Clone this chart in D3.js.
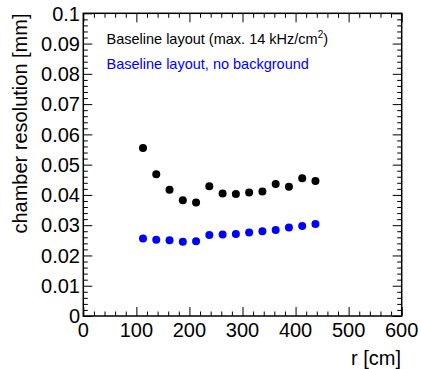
<!DOCTYPE html>
<html><head><meta charset="UTF-8"><title>chamber resolution</title>
<script src="https://cdn.jsdelivr.net/npm/d3@7"></script>
<style>
	body	{ margin:0; background:#fff; }
	svg	{ display:block; font-family:"Liberation Sans",Arial,Helvetica,sans-serif; }
</style>
</head><body>
<svg id="chart" width="421" height="369"></svg>
<script>
// r positions of the chambers [cm]
var radius=[112.5,137.5,162.5,187.5,212.5,237.5,262.5,287.5,312.5,337.5,362.5,387.5,412.5,437.5];
// resolution [mm], with background (max. 14 kHz/cm2)
var resBaseline=[0.0555,0.0468,0.0417,0.0382,0.0375,0.0429,0.0405,0.0403,0.0408,0.0411,0.0436,0.0427,0.0455,0.0446];
// resolution [mm], no background
var resNoBkg=[0.0256,0.0252,0.0250,0.0245,0.0247,0.0268,0.0269,0.0271,0.0276,0.0280,0.0284,0.0292,0.0297,0.0304];
var xTicks=[0,100,200,300,400,500,600];
var yTicks=[0,0.01,0.02,0.03,0.04,0.05,0.06,0.07,0.08,0.09,0.1];

var svg=d3.select('#chart');
var L=83.3, R=401.7, T=13.3, B=316;
var x=d3.scaleLinear().domain([0,600]).range([L,R]);
var y=d3.scaleLinear().domain([0,0.1]).range([B,T]);

var fmtY=function(d){ return d===0?'0':d3.format('.2~f')(d); };

// minor ticks
var xMinor=d3.range(0,601,20).filter(function(d){return d%100!==0;});
var yMinor=d3.range(0,51).map(function(i){return i*0.002;}).filter(function(d,i){return i%5!==0;});

function axisLine(g){ g.selectAll('path').remove(); g.selectAll('line').attr('stroke','#000'); }

// bottom / top / left / right axes, ROOT style ticks pointing inside
svg.append('g').attr('transform','translate(0,'+B+')')
	.call(d3.axisTop(x).tickValues(xTicks).tickSize(9).tickFormat(''))
	.call(axisLine);
svg.append('g').attr('transform','translate(0,'+B+')')
	.call(d3.axisTop(x).tickValues(xMinor).tickSize(4.5).tickFormat(''))
	.call(axisLine);
svg.append('g').attr('transform','translate(0,'+T+')')
	.call(d3.axisBottom(x).tickValues(xTicks).tickSize(9).tickFormat(''))
	.call(axisLine);
svg.append('g').attr('transform','translate(0,'+T+')')
	.call(d3.axisBottom(x).tickValues(xMinor).tickSize(4.5).tickFormat(''))
	.call(axisLine);
svg.append('g').attr('transform','translate('+L+',0)')
	.call(d3.axisRight(y).tickValues(yTicks).tickSize(9).tickFormat(''))
	.call(axisLine);
svg.append('g').attr('transform','translate('+L+',0)')
	.call(d3.axisRight(y).tickValues(yMinor).tickSize(4.5).tickFormat(''))
	.call(axisLine);
svg.append('g').attr('transform','translate('+R+',0)')
	.call(d3.axisLeft(y).tickValues(yTicks).tickSize(9).tickFormat(''))
	.call(axisLine);
svg.append('g').attr('transform','translate('+R+',0)')
	.call(d3.axisLeft(y).tickValues(yMinor).tickSize(4.5).tickFormat(''))
	.call(axisLine);

// frame
svg.append('rect').attr('x',L).attr('y',T).attr('width',R-L).attr('height',B-T)
	.attr('fill','none').attr('stroke','#000').attr('stroke-width',1.5);

// tick labels
svg.append('g').selectAll('text').data(xTicks).join('text')
	.attr('x',function(d){return x(d);}).attr('y',337)
	.attr('text-anchor','middle').attr('font-size',20).text(function(d){return d;});
svg.append('g').selectAll('text').data(yTicks).join('text')
	.attr('x',80).attr('y',function(d){return y(d);}).attr('dy','0.36em')
	.attr('text-anchor','end').attr('font-size',20).text(fmtY);

// axis titles
svg.append('text').attr('x',401).attr('y',365).attr('text-anchor','end')
	.attr('font-size',20).text('r [cm]');
svg.append('text').attr('transform','translate(27,13.5) rotate(-90)').attr('text-anchor','end')
	.attr('font-size',20).text('chamber resolution [mm]');

// markers
svg.append('g').selectAll('circle').data(radius).join('circle')
	.attr('cx',function(d){return x(d);}).attr('cy',function(d,i){return y(resBaseline[i]);})
	.attr('r',4).attr('fill','#000');
svg.append('g').selectAll('circle').data(radius).join('circle')
	.attr('cx',function(d){return x(d);}).attr('cy',function(d,i){return y(resNoBkg[i]);})
	.attr('r',4).attr('fill','#0000ff');

// legend
var t1=svg.append('text').attr('x',106.5).attr('y',43.5).attr('font-size',14.5).attr('fill','#000');
t1.append('tspan').text('Baseline layout (max. 14 kHz/cm');
t1.append('tspan').attr('dy',-6).attr('font-size',10).text('2');
t1.append('tspan').attr('dy',6).text(')');
svg.append('text').attr('x',106.5).attr('y',68.5).attr('font-size',14.5).attr('fill','#0000ff')
	.text('Baseline layout, no background');
</script>
</body></html>
